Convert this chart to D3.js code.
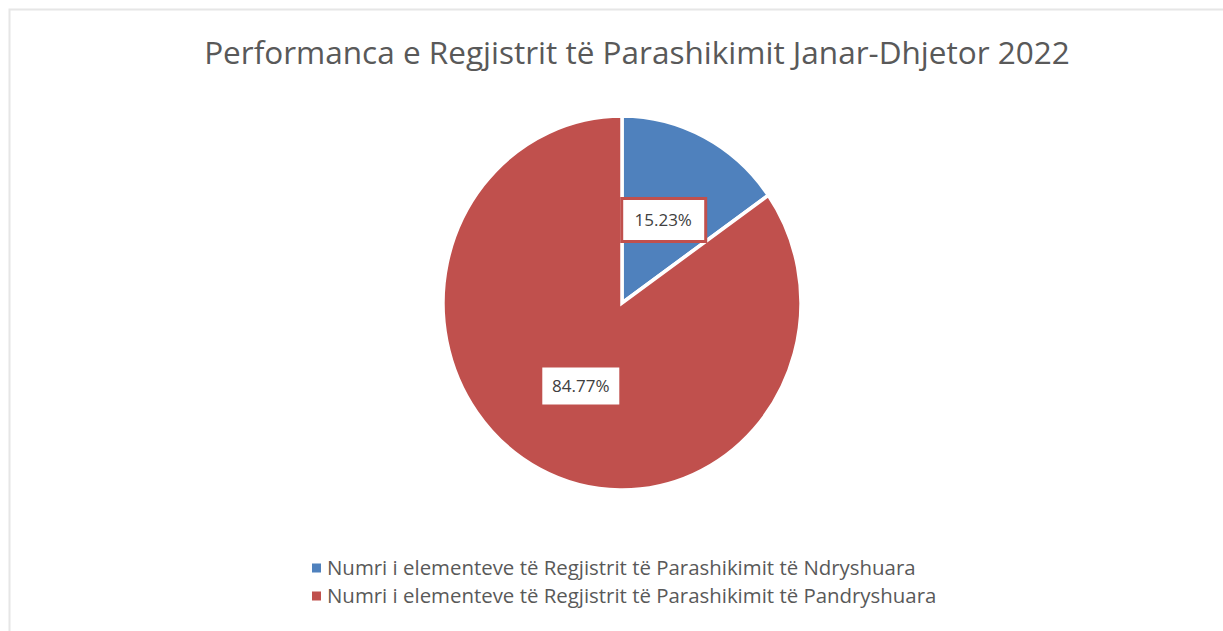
<!DOCTYPE html>
<html>
<head>
<meta charset="utf-8">
<script src="https://cdn.jsdelivr.net/npm/d3@7"></script>
<style>
  body { margin: 0; background: #fff; }
  svg text { font-family: "Open Sans", sans-serif; }
</style>
</head>
<body>
<div id="chart"></div>
<script>
var title = "Performanca e Regjistrit të Parashikimit Janar-Dhjetor 2022"
var categories = ["Numri i elementeve të Regjistrit të Parashikimit të Ndryshuara",
                  "Numri i elementeve të Regjistrit të Parashikimit të Pandryshuara"]
var values = [15.23, 84.77]
var labels = ["15.23%", "84.77%"]
var colors = ["#4F81BD", "#C0504D"]

var width = 1223, height = 631
var cx = 622, cy = 303, rx = 179, ry = 187

var svg = d3.select("#chart").append("svg")
    .attr("width", width)
    .attr("height", height)

// chart frame
svg.append("rect")
    .attr("x", 9.5).attr("y", 9.5)
    .attr("width", width).attr("height", height)
    .attr("fill", "#fff")
    .attr("stroke", "#e6e6e6")
    .attr("stroke-width", 2)

// title, fitted to the width seen in the picture
var t = svg.append("text")
    .attr("x", 637).attr("y", 64)
    .attr("text-anchor", "middle")
    .attr("fill", "#595959")
    .attr("font-size", 28)
    .text(title)
var tw = t.node().getComputedTextLength()
t.attr("font-size", 28 * 866 / tw)

var pie = d3.pie().sort(null).value(function(d){ return d })
var arcs = pie(values)
var arc = d3.arc().innerRadius(0).outerRadius(rx)
var labelArc = d3.arc().innerRadius(0).outerRadius(rx)

var g = svg.append("g")
    .attr("transform", "translate(" + cx + "," + cy + ") scale(1," + (ry / rx) + ")")

g.selectAll(".slice").data(arcs).enter()
  .append("path")
    .attr("class", "slice")
    .attr("d", arc)
    .attr("fill", function(d, i){ return colors[i] })
    .attr("stroke", "#fff")
    .attr("stroke-width", 3.5)

// data labels
var lab = svg.selectAll(".lab").data(arcs).enter()
  .append("g")
    .attr("class", "lab")
    .attr("transform", function(d){
      var c = labelArc.centroid(d)
      return "translate(" + (cx + c[0]) + "," + (cy + c[1] * ry / rx) + ")"
    })

lab.append("rect")
    .attr("x", function(d, i){ return i == 0 ? -41.5 : -38.5 })
    .attr("y", function(d, i){ return i == 0 ? -21.5 : -18.5 })
    .attr("width", function(d, i){ return i == 0 ? 84 : 77 })
    .attr("height", function(d, i){ return i == 0 ? 43 : 37 })
    .attr("fill", "#fff")
    .attr("stroke", function(d, i){ return i == 0 ? colors[1] : "none" })
    .attr("stroke-width", 3)

lab.append("text")
    .attr("text-anchor", "middle")
    .attr("dy", "0.35em")
    .attr("font-size", 17)
    .attr("fill", "#404040")
    .text(function(d, i){ return labels[i] })

// legend
var legend = svg.selectAll(".legend").data(categories).enter()
  .append("g")
    .attr("class", "legend")
    .attr("transform", function(d, i){ return "translate(312," + (568 + i * 28) + ")" })

legend.append("rect")
    .attr("x", 0).attr("y", -4.5)
    .attr("width", 9).attr("height", 9)
    .attr("fill", function(d, i){ return colors[i] })

var lt = legend.append("text")
    .attr("x", 15)
    .attr("dy", "0.35em")
    .attr("font-size", 16)
    .attr("fill", "#595959")
    .text(function(d){ return d })
var lw = lt.nodes()[1].getComputedTextLength()
lt.attr("font-size", 16 * 610 / lw)
</script>
</body>
</html>
